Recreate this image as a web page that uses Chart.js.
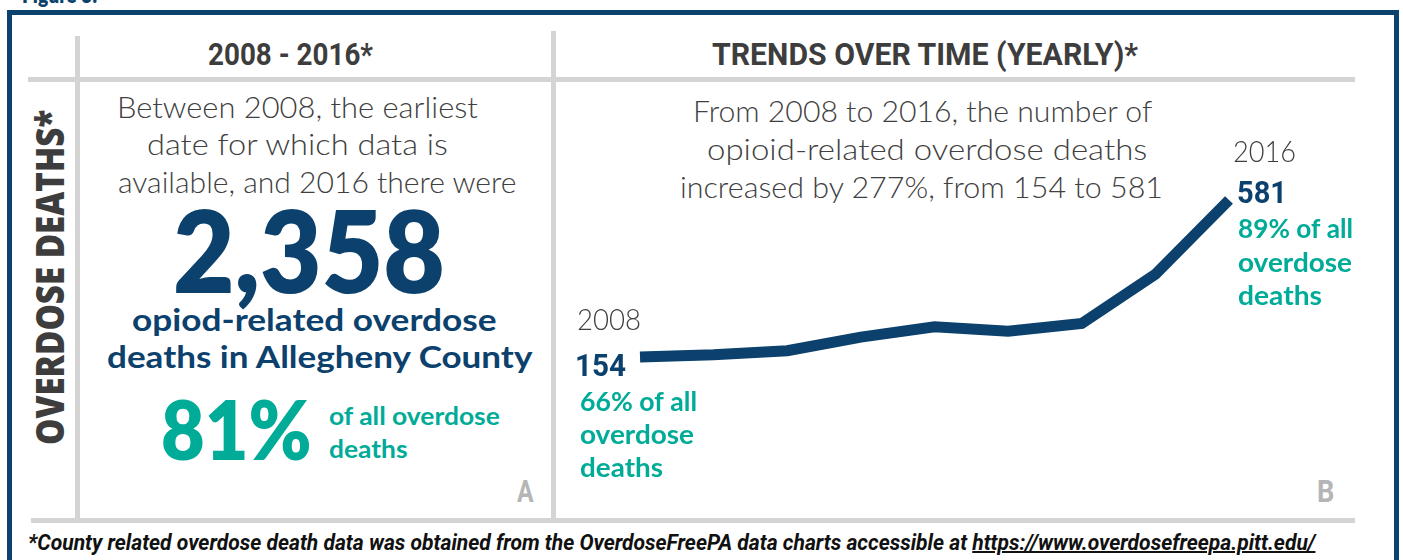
<!DOCTYPE html>
<html>
<head>
<meta charset="utf-8">
<script src="https://cdn.jsdelivr.net/npm/chart.js@4/dist/chart.umd.min.js"></script>
<style>
  html, body { margin: 0; padding: 0; background: #fff; }
  body { width: 1403px; height: 560px; position: relative; overflow: hidden; }
  .box { position: absolute; left: 7px; top: 10px; width: 1382px; height: 600px; border: 5px solid #0b436e; }
  .rule { position: absolute; background: #d4d4d4; }
  .t { position: absolute; left: 0; top: 0; white-space: nowrap; transform-origin: 0 0; }
  .light { font-family: Lato, sans-serif; font-weight: 300; font-size: 30px; color: #404040; }
  .head { font-family: Roboto, sans-serif; font-weight: bold; font-size: 31px; color: #3d3d3d; }
  .navy { font-family: Lato, sans-serif; font-weight: 700; font-size: 31px; color: #0b416c; }
  .big { font-family: Lato, sans-serif; font-weight: 800; font-size: 114px; color: #0b416c; }
  .pct { font-family: Lato, sans-serif; font-weight: 800; font-size: 82px; color: #00ab98; }
  .teal { font-family: Lato, sans-serif; font-weight: 700; font-size: 25px; color: #00ab98; }
  .tag { font-family: Roboto, sans-serif; font-weight: bold; font-size: 32px; color: #b5b5b5; }
  .fig { font-family: Lato, sans-serif; font-weight: 800; font-size: 22px; color: #0b436e; }
  .note { font-family: Roboto, sans-serif; font-weight: bold; font-style: italic; font-size: 22px; color: #111; }
  .note u { text-decoration-thickness: 1.5px; }
  #side { font-family: "Open Sans", sans-serif; font-weight: 800; font-size: 38px; color: #3d3d3d; }
  #trend { position: absolute; left: 556px; top: 84px; }
</style>
</head>
<body>
<div class="box"></div>
<div class="rule" style="left:28px;top:77px;width:1327px;height:5px"></div>
<div class="rule" style="left:75px;top:36px;width:5px;height:482px"></div>
<div class="rule" style="left:551px;top:31px;width:5px;height:487px"></div>
<div class="rule" style="left:31px;top:518px;width:1324px;height:5px"></div>

<div class="t fig" data-x="22" data-y="3" data-w="75">Figure 3:</div>
<div class="t head" data-x="208" data-y="65" data-w="165">2008 - 2016*</div>
<div class="t head" data-x="712" data-y="65" data-w="426">TRENDS OVER TIME (YEARLY)*</div>

<div class="t light" data-x="117" data-y="118" data-w="361">Between 2008, the earliest</div>
<div class="t light" data-x="147" data-y="155" data-w="301">date for which data is</div>
<div class="t light" data-x="118" data-y="193" data-w="399">available, and 2016 there were</div>
<div class="t big" data-x="173" data-y="293" data-w="272">2,358</div>
<div class="t navy" data-x="132" data-y="331" data-w="365">opiod-related overdose</div>
<div class="t navy" data-x="107" data-y="368" data-w="425">deaths in Allegheny County</div>
<div class="t pct" data-x="161" data-y="460" data-w="151">81%</div>
<div class="t teal" data-x="329" data-y="425" data-w="171">of all overdose</div>
<div class="t teal" data-x="329" data-y="458" data-w="78">deaths</div>
<div class="t tag" data-x="517" data-y="502" data-w="17">A</div>

<div class="t light" data-x="693" data-y="122" data-w="459">From 2008 to 2016, the number of</div>
<div class="t light" data-x="707" data-y="160" data-w="440">opioid-related overdose deaths</div>
<div class="t light" data-x="680" data-y="198" data-w="483">increased by 277%, from 154 to 581</div>
<div class="t tag" data-x="1317" data-y="502" data-w="17">B</div>

<div class="t note" data-x="28" data-y="550" data-w="1287">*County related overdose death data was obtained from the OverdoseFreePA data charts accessible at <u>https://www.overdosefreepa.pitt.edu/</u></div>

<div class="t" id="side">OVERDOSE DEATHS*</div>

<canvas id="trend" width="838" height="432"></canvas>

<script>
const years = ["2008", "2009", "2010", "2011", "2012", "2013", "2014", "2015", "2016"]
const deaths = [154, 160, 171, 208, 236, 224, 245, 379, 581]
const endShares = [66, 89]

const NAVY = "#0b416c"
const TEAL = "#00ab98"
const GREY = "#404040"

// put a text line so that its baseline sits at y and it spans w pixels
function baselineOf(el) {
  const probe = document.createElement("span")
  probe.style.cssText = "display:inline-block;width:0;height:0;vertical-align:baseline"
  el.appendChild(probe)
  const b = probe.offsetTop
  probe.remove()
  return b
}

function layoutText() {
  document.querySelectorAll(".t[data-x]").forEach(el => {
    const b = baselineOf(el)
    const s = +el.dataset.w / el.offsetWidth
    el.style.transform = `translate(${el.dataset.x}px, ${el.dataset.y - b}px) scaleX(${s})`
  })
  const side = document.getElementById("side")
  const sb = baselineOf(side)
  const ss = 335 / side.offsetWidth
  side.style.transform = `translate(64px, 445px) rotate(-90deg) scaleX(${ss}) translate(0, ${-sb}px)`
}

function fillFit(ctx, text, x, y, w) {
  const m = ctx.measureText(text).width
  ctx.save()
  ctx.translate(x, y)
  ctx.scale(w / m, 1)
  ctx.fillText(text, 0, 0)
  ctx.restore()
}

const endLabels = {
  id: "endLabels",
  afterDatasetsDraw(chart) {
    const ctx = chart.ctx
    const pts = chart.getDatasetMeta(0).data
    const ends = [
      { p: pts[0], i: 0, year: [-63, -27, 64], val: [-65, 19, 51], share: [-60, 54, 33, [117, 114, 83]] },
      { p: pts[pts.length - 1], i: pts.length - 1, year: [4, -38, 63], val: [8, 3, 50], share: [9, 38, 33.5, [115, 114, 84]] }
    ]
    ctx.save()
    ctx.textBaseline = "alphabetic"
    ends.forEach((e, k) => {
      const { x, y } = e.p
      ctx.fillStyle = GREY
      ctx.font = "300 30px Lato, sans-serif"
      fillFit(ctx, years[e.i], x + e.year[0], y + e.year[1], e.year[2])
      ctx.fillStyle = NAVY
      ctx.font = "bold 32px Roboto, sans-serif"
      fillFit(ctx, String(deaths[e.i]), x + e.val[0], y + e.val[1], e.val[2])
      ctx.fillStyle = TEAL
      ctx.font = "bold 26px Lato, sans-serif"
      const lines = [`${endShares[k]}% of all`, "overdose", "deaths"]
      lines.forEach((t, j) => {
        fillFit(ctx, t, x + e.share[0], y + e.share[1] + j * e.share[2], e.share[3][j])
      })
    })
    ctx.restore()
  }
}

function drawChart() {
  new Chart(document.getElementById("trend"), {
    type: "line",
    data: {
      labels: years,
      datasets: [{
        data: deaths,
        borderColor: NAVY,
        borderWidth: 11,
        borderCapStyle: "butt",
        borderJoinStyle: "miter",
        pointRadius: 0,
        tension: 0,
        fill: false,
        clip: false
      }]
    },
    options: {
      responsive: false,
      animation: false,
      layout: { padding: { left: 84, right: 165, top: 116, bottom: 159 } },
      plugins: { legend: { display: false }, tooltip: { enabled: false } },
      scales: {
        x: { display: false, offset: false },
        y: { display: false, min: 154, max: 581 }
      }
    },
    plugins: [endLabels]
  })
}

Promise.all([
  document.fonts.load("bold 32px Roboto"),
  document.fonts.load("300 30px Lato"),
  document.fonts.load("bold 26px Lato")
]).catch(() => {}).then(() => document.fonts.ready).then(() => {
  layoutText()
  drawChart()
})
</script>
</body>
</html>
